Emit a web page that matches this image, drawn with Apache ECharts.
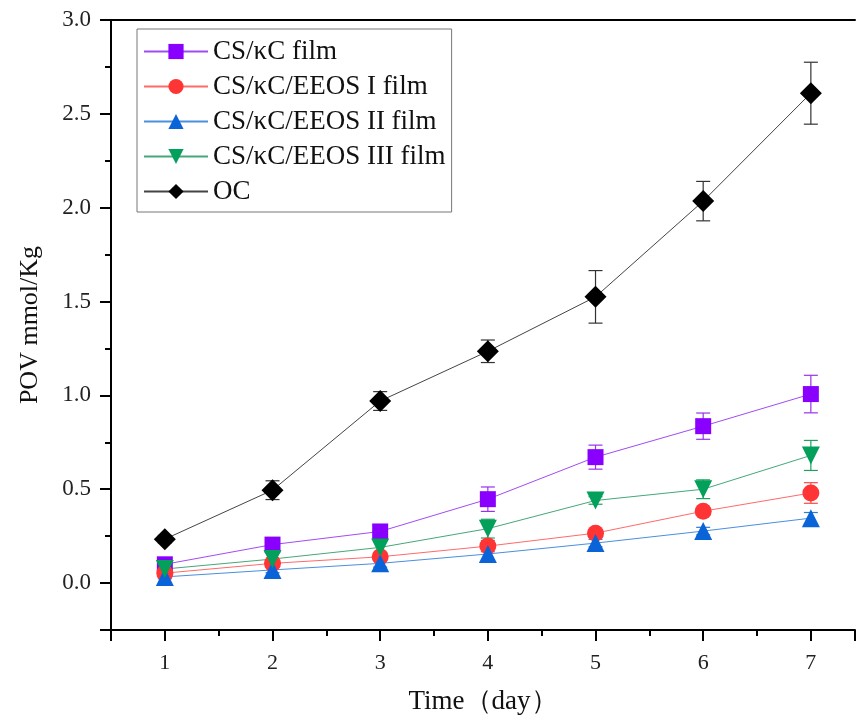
<!DOCTYPE html>
<html>
<head>
<meta charset="utf-8">
<script src="https://cdn.jsdelivr.net/npm/echarts@6/dist/echarts.min.js"></script>
<style>
  html, body { margin: 0; padding: 0; background: #fff; }
  #main { width: 858px; height: 722px; }
</style>
</head>
<body>
<div id="main"></div>
<script>
// storage time (day)
var days = [1, 2, 3, 4, 5, 6, 7];

// POV values (mmol/Kg) and error bars
var csKc      = [0.100, 0.205, 0.275, 0.447, 0.671, 0.836, 1.007];
var csKcErr   = [0.010, 0.020, 0.030, 0.065, 0.064, 0.070, 0.100];
var eeos1     = [0.053, 0.105, 0.140, 0.197, 0.266, 0.383, 0.480];
var eeos1Err  = [0.010, 0.015, 0.020, 0.030, 0.020, 0.020, 0.055];
var eeos2     = [0.033, 0.070, 0.105, 0.155, 0.213, 0.277, 0.346];
var eeos2Err  = [0.010, 0.015, 0.020, 0.045, 0.020, 0.020, 0.030];
var eeos3     = [0.075, 0.128, 0.190, 0.290, 0.440, 0.500, 0.680];
var eeos3Err  = [0.015, 0.030, 0.030, 0.050, 0.020, 0.050, 0.080];
var oc        = [0.234, 0.495, 0.970, 1.235, 1.525, 2.035, 2.610];
var ocErr     = [0.020, 0.050, 0.050, 0.060, 0.140, 0.105, 0.165];

var names = ['CS/κC film', 'CS/κC/EEOS I film', 'CS/κC/EEOS II film', 'CS/κC/EEOS III film', 'OC'];

var FONT = "'Liberation Serif', 'Times New Roman', serif";
var chart = echarts.init(document.getElementById('main'));

function pts(vals) {
  return days.map(function (d, i) { return [d, vals[i]]; });
}

function lineSeries(name, vals, symbol, size, markColor, lineColor, rotate) {
  return {
    name: name,
    type: 'line',
    data: pts(vals),
    symbol: symbol,
    symbolSize: size,
    symbolRotate: rotate || 0,
    showAllSymbol: true,
    itemStyle: { color: markColor },
    lineStyle: { color: lineColor, width: 1 },
    emphasis: { disabled: true },
    animation: false,
    z: 3
  };
}

function errSeries(vals, errs, color) {
  return {
    type: 'custom',
    silent: true,
    animation: false,
    z: 2,
    renderItem: function (params, api) {
      var x = api.value(0), y = api.value(1), e = api.value(2);
      var top = api.coord([x, y + e]);
      var bot = api.coord([x, y - e]);
      var hw = 7;
      var st = { stroke: color, lineWidth: 1.2 };
      return {
        type: 'group',
        children: [
          { type: 'line', shape: { x1: top[0], y1: top[1], x2: bot[0], y2: bot[1] }, style: st },
          { type: 'line', shape: { x1: top[0] - hw, y1: top[1], x2: top[0] + hw, y2: top[1] }, style: st },
          { type: 'line', shape: { x1: bot[0] - hw, y1: bot[1], x2: bot[0] + hw, y2: bot[1] }, style: st }
        ]
      };
    },
    data: days.map(function (d, i) { return [d, vals[i], errs[i]]; })
  };
}

var axisLineStyle = { color: '#000', width: 2 };
var X_MIN = 0.5, X_MAX = 7.41;

var option = {
  backgroundColor: '#fff',
  grid: { left: 111, top: 20, right: 0, bottom: 92 },
  legend: {
    data: names,
    orient: 'vertical',
    left: 137,
    top: 29,
    padding: [9, 6, 7, 6],
    itemWidth: 64,
    itemHeight: 19,
    itemGap: 8,
    borderColor: '#777',
    borderWidth: 1,
    symbolRotate: 'inherit',
    textStyle: { fontFamily: FONT, fontSize: 27, color: '#111' }
  },
  xAxis: [
    {
      type: 'value',
      position: 'bottom',
      min: X_MIN,
      max: X_MAX,
      splitNumber: 7,
      axisLine: { onZero: false, lineStyle: axisLineStyle },
      axisTick: { length: 11, lineStyle: { color: '#000', width: 2 } },
      splitLine: { show: false },
      axisLabel: {
        fontFamily: FONT, fontSize: 22, color: '#222', margin: 22,
        formatter: function (v) { return Math.abs(v - Math.round(v)) < 1e-6 && v >= 1 && v <= 7 ? String(Math.round(v)) : ''; }
      },
      name: 'Time（day）',
      nameLocation: 'middle',
      nameGap: 58,
      nameTextStyle: { fontFamily: FONT, fontSize: 27, color: '#111' }
    },
    {
      type: 'value',
      position: 'bottom',
      min: X_MIN,
      max: X_MAX,
      interval: 0.5,
      axisLine: { show: false, onZero: false },
      axisTick: { length: 6, lineStyle: { color: '#000', width: 2 } },
      axisLabel: { show: false },
      splitLine: { show: false }
    },
    {
      type: 'value',
      position: 'top',
      min: X_MIN,
      max: X_MAX,
      axisLine: { onZero: false, lineStyle: axisLineStyle },
      axisTick: { show: false },
      axisLabel: { show: false },
      splitLine: { show: false }
    }
  ],
  yAxis: [
    {
      type: 'value',
      position: 'left',
      min: -0.25,
      max: 3,
      splitNumber: 6,
      axisLine: { onZero: false, lineStyle: axisLineStyle },
      axisTick: { length: 11, lineStyle: { color: '#000', width: 2 } },
      splitLine: { show: false },
      axisLabel: {
        fontFamily: FONT, fontSize: 23, color: '#222', margin: 20,
        formatter: function (v) {
          var k = v * 2;
          if (v < -1e-6 || Math.abs(k - Math.round(k)) > 1e-6) return '';
          return Math.abs(v).toFixed(1);
        }
      },
      name: 'POV mmol/Kg',
      nameLocation: 'middle',
      nameGap: 68,
      nameTextStyle: { fontFamily: FONT, fontSize: 26, color: '#111' }
    },
    {
      type: 'value',
      position: 'left',
      min: -0.25,
      max: 3,
      interval: 0.25,
      axisLine: { show: false, onZero: false },
      axisTick: { length: 6, lineStyle: { color: '#000', width: 2 } },
      axisLabel: { show: false },
      splitLine: { show: false }
    }
  ],
  series: [
    errSeries(csKc, csKcErr, '#9a30f0'),
    errSeries(eeos1, eeos1Err, '#ff4a4a'),
    errSeries(eeos2, eeos2Err, '#2f7ad8'),
    errSeries(eeos3, eeos3Err, '#20a060'),
    errSeries(oc, ocErr, '#333'),
    lineSeries(names[0], csKc, 'rect', 16, '#8a00ff', '#a04cf5'),
    lineSeries(names[1], eeos1, 'circle', 17, '#ff3535', '#ff6a6a'),
    lineSeries(names[2], eeos2, 'triangle', 18, '#0a64d8', '#4a8fe0'),
    lineSeries(names[3], eeos3, 'triangle', 18, '#02a05a', '#45a878', 180),
    lineSeries(names[4], oc, 'diamond', 22, '#000', '#444')
  ]
};

chart.setOption(option);
</script>
</body>
</html>
